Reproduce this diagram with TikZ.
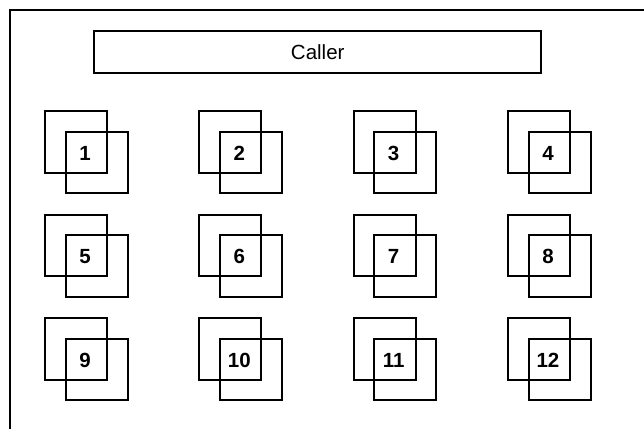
\documentclass[tikz,border=0pt]{standalone}
\usepackage{fontspec}
\setmainfont{Liberation Sans}
\begin{document}
\begin{tikzpicture}[x=1pt,y=-1pt,
  frameline/.style={line width=2pt},
  callerbox/.style={draw,line width=2pt,minimum width=447pt,minimum height=42pt,inner sep=0pt,font=\fontsize{20.5}{24}\selectfont},
  sq/.style={draw,line width=2pt,minimum width=62pt,minimum height=61.5pt,inner sep=0pt,anchor=north west},
  num/.style={font=\bfseries\fontsize{20.5}{24}\selectfont,inner sep=0pt}]
\useasboundingbox (0,0) rectangle (644,428);
\coordinate (fbl) at (10,440);
\coordinate (ftl) at (10,10);
\coordinate (ftr) at (660,10);
\draw[frameline] (fbl) -- (ftl) -- (ftr);
\node[callerbox] (caller) at (317.75,52) {\raisebox{-2pt}{Caller}};
\foreach \r in {0,1,2}{
  \foreach \c in {0,1,2,3}{
    \pgfmathtruncatemacro{\k}{\r*4+\c+1}
    \pgfmathsetmacro{\xx}{44+154.33*\c}
    \pgfmathsetmacro{\yy}{110+103.5*\r}
    \node[sq] (b\k) at (\xx,\yy) {};
    \node[sq] (f\k) at (\xx+20.7,\yy+20.7) {};
    \node[num] (n\k) at (\xx+41,\yy+43) {\k};
  }
}
\end{tikzpicture}
\end{document}
